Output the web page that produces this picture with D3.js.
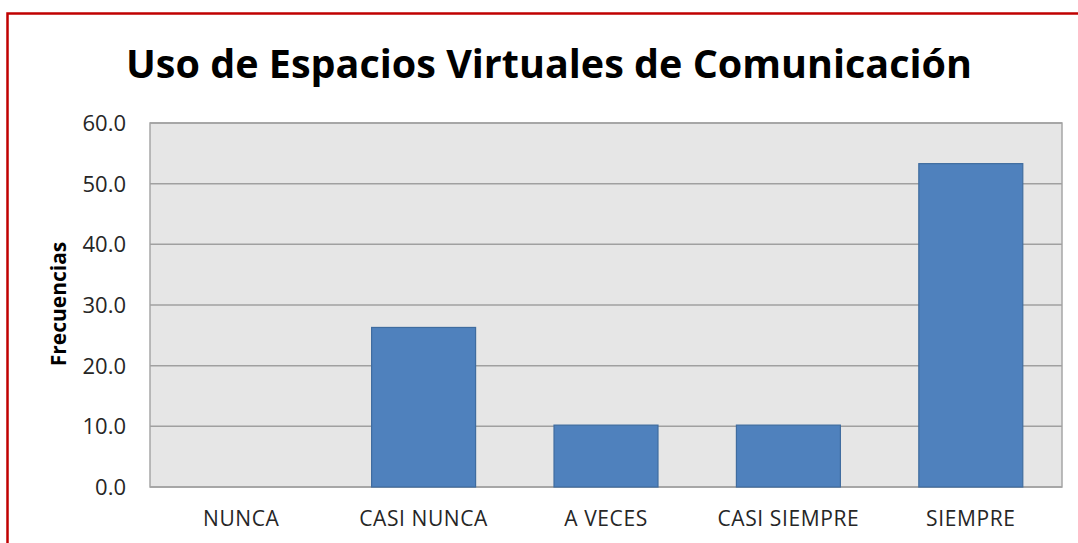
<!DOCTYPE html>
<meta charset="utf-8">
<html>
<head>
    <title>Uso de Espacios Virtuales de Comunicación</title>
    <script src="https://cdn.jsdelivr.net/npm/d3@7"></script>
    <style>
        body { margin: 0; background: #fff; }
        text { font-family: "Open Sans", "Noto Sans", sans-serif; }
    </style>
</head>
<body>
    <svg id="chart"></svg>
    <script>
        // chart data
        var categories = ["NUNCA", "CASI NUNCA", "A VECES", "CASI SIEMPRE", "SIEMPRE"];
        var values = [0, 26.3, 10.2, 10.2, 53.3];
        var yTicks = [0, 10, 20, 30, 40, 50, 60];

        var w = 1078, h = 543;
        var svg = d3.select("#chart").attr("width", w).attr("height", h);

        // red frame
        svg.append("rect")
            .attr("x", 7.5).attr("y", 13.5)
            .attr("width", w + 20).attr("height", h)
            .attr("fill", "none")
            .attr("stroke", "#c00000")
            .attr("stroke-width", 2.5);

        var plotL = 150, plotR = 1062, plotT = 123, plotB = 487;

        var x = d3.scaleBand()
            .domain(categories)
            .range([plotL, plotR])
            .paddingInner(0.43)
            .paddingOuter(0.215);

        var y = d3.scaleLinear()
            .domain([0, 60])
            .range([plotB, plotT]);

        // plot background
        svg.append("rect")
            .attr("x", plotL).attr("y", plotT)
            .attr("width", plotR - plotL).attr("height", plotB - plotT)
            .attr("fill", "#e6e6e6")
            .attr("stroke", "#a6a6a6")
            .attr("stroke-width", 1.5);

        // gridlines
        svg.append("g")
            .selectAll("line")
            .data(yTicks)
            .enter().append("line")
            .attr("x1", plotL).attr("x2", plotR)
            .attr("y1", function (d) { return y(d); })
            .attr("y2", function (d) { return y(d); })
            .attr("stroke", "#a0a0a0")
            .attr("stroke-width", 1.5);

        // y axis labels
        var yAxis = d3.axisLeft(y)
            .tickValues(yTicks)
            .tickFormat(d3.format(".1f"))
            .tickSize(0)
            .tickPadding(24);

        svg.append("g")
            .attr("transform", "translate(" + plotL + ",0)")
            .call(yAxis)
            .call(function (g) { g.select(".domain").remove(); })
            .selectAll("text")
            .style("font-size", "22px")
            .style("font-family", "'Open Sans', sans-serif")
            .style("fill", "#262626")
            .attr("dy", "0.34em");

        // bars
        svg.append("g")
            .selectAll("rect")
            .data(values)
            .enter().append("rect")
            .attr("x", function (d, i) { return x(categories[i]); })
            .attr("y", function (d) { return y(d); })
            .attr("width", x.bandwidth())
            .attr("height", function (d) { return plotB - y(d); })
            .attr("fill", "#4f81bd")
            .attr("stroke", function (d) { return d > 0 ? "#3f6c9f" : "none"; })
            .attr("stroke-width", 1.2);

        // x axis labels
        var xAxis = d3.axisBottom(x).tickSize(0).tickPadding(24);
        svg.append("g")
            .attr("transform", "translate(0," + plotB + ")")
            .call(xAxis)
            .call(function (g) { g.select(".domain").remove(); })
            .selectAll("text")
            .style("font-size", "21px")
            .style("font-family", "'Open Sans', sans-serif")
            .style("letter-spacing", "0.6px")
            .style("fill", "#262626");

        // y axis title
        svg.append("text")
            .attr("transform", "translate(66,304) rotate(-90)")
            .attr("text-anchor", "middle")
            .style("font-size", "21px")
            .style("font-weight", "bold")
            .style("fill", "#000")
            .text("Frecuencias");

        // chart title
        svg.append("text")
            .attr("x", 549).attr("y", 78)
            .attr("text-anchor", "middle")
            .style("font-size", "39.5px")
            .style("font-weight", "bold")
            .style("fill", "#000")
            .text("Uso de Espacios Virtuales de Comunicación");
    </script>
</body>
</html>
